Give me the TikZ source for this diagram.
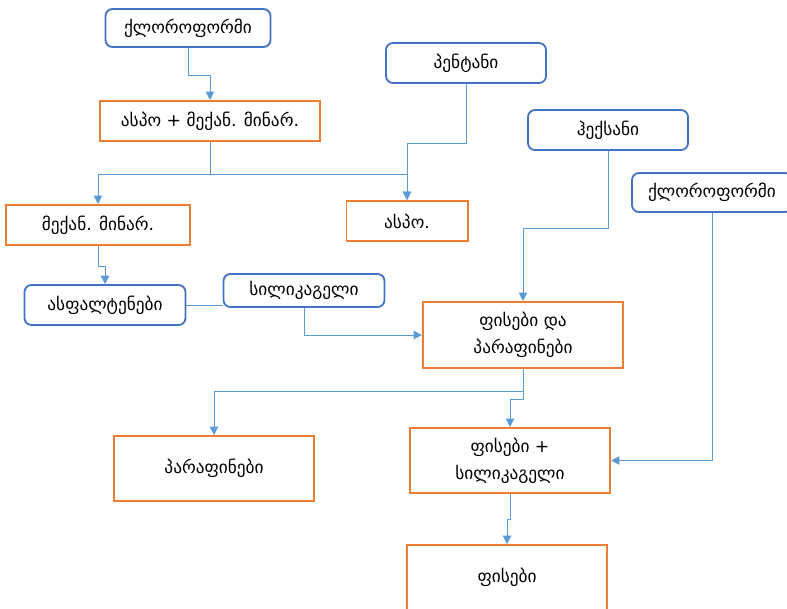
\documentclass[tikz,border=0pt]{standalone}
\usepackage{fontspec}
\newfontfamily\geo{DejaVu Sans}
\usetikzlibrary{arrows.meta}
\usetikzlibrary{calc}

\definecolor{srcblue}{HTML}{4472C4}
\definecolor{lineblue}{HTML}{5B9BD5}
\definecolor{boxorange}{HTML}{ED7D31}

\begin{document}
\begin{tikzpicture}[x=0.025cm, y=-0.025cm,
    src/.style = {draw=srcblue, line width=1.3pt, rounded corners=5pt, fill=white, minimum height=1cm, font=\geo\fontsize{12.3}{16}\selectfont},
    prod/.style = {draw=boxorange, line width=1.4pt, fill=white, minimum height=1cm, align=center, font=\geo\fontsize{12.3}{19}\selectfont},
    link/.style = {draw=lineblue, line width=0.7pt, -{Triangle[length=6pt,width=6pt]}},
    plain/.style = {draw=lineblue, line width=0.7pt}]
    \clip (0,0) rectangle (787,608);
    \fill[white] (0,0) rectangle (787,608);

    \node [src, minimum width=4.125cm, minimum height=0.95cm] (chl1) at (188, 28) {ქლოროფორმი};
    \node [prod, minimum width=5.475cm] (mix) at (210, 121) {ასპო + მექან. მინარ.};
    \node [src, minimum width=4cm] (pent) at (466, 63) {პენტანი};
    \node [prod, minimum width=4.575cm] (mech) at (98, 225) {მექან. მინარ.};
    \node [prod, minimum width=3.025cm] (aspo) at (407, 221) {ასპო.};
    \node [src, minimum width=4.025cm] (asph) at (105, 305) {ასფალტენები};
    \node [src, minimum width=4.025cm, minimum height=0.825cm] (sil) at (304, 290.5) {სილიკაგელი};
    \node [src, minimum width=4cm] (hex) at (608, 130) {ჰექსანი};
    \node [src, minimum width=4cm, minimum height=0.975cm] (chl2) at (712, 192.5) {ქლოროფორმი};
    \node [prod, minimum width=5cm, minimum height=1.65cm] (resin) at (523, 335) {ფისები და\\პარაფინები};
    \node [prod, minimum width=5cm, minimum height=1.625cm] (par) at (214, 468.5) {პარაფინები};
    \node [prod, minimum width=5cm, minimum height=1.625cm] (rsil) at (510, 460.5) {ფისები +\\სილიკაგელი};
    \node [prod, minimum width=5cm, minimum height=1.625cm] (fis) at (507, 577.5) {ფისები};

    \draw [link] (chl1.south) -- ++(0,28) -| (mix.north);
    \draw [link] (mix.south) -- ++(0,32) -| (mech.north);
    \draw [link] (mix.south) -- ++(0,32) -| (aspo.north);
    \draw [link] (pent.south) -- ++(0,60) -| (aspo.north);
    \draw [link] (mech.south) -- ++(0,20) -| (asph.north);
    \draw [plain] (asph.east) -- (asph.east -| sil.west);
    \draw [link] (sil.south) |- (resin.west);
    \draw [link] (hex.south) -- ++(0,78) -| (resin.north);
    \draw [link] (resin.south) -- ++(0,22) -| (par.north);
    \draw [link] (resin.south) -- ++(0,30) -| (rsil.north);
    \draw [link] (chl2.south) |- (rsil.east);
    \draw [link] (rsil.south) -- ++(0,25) -| (fis.north);

\end{tikzpicture}
\end{document}
